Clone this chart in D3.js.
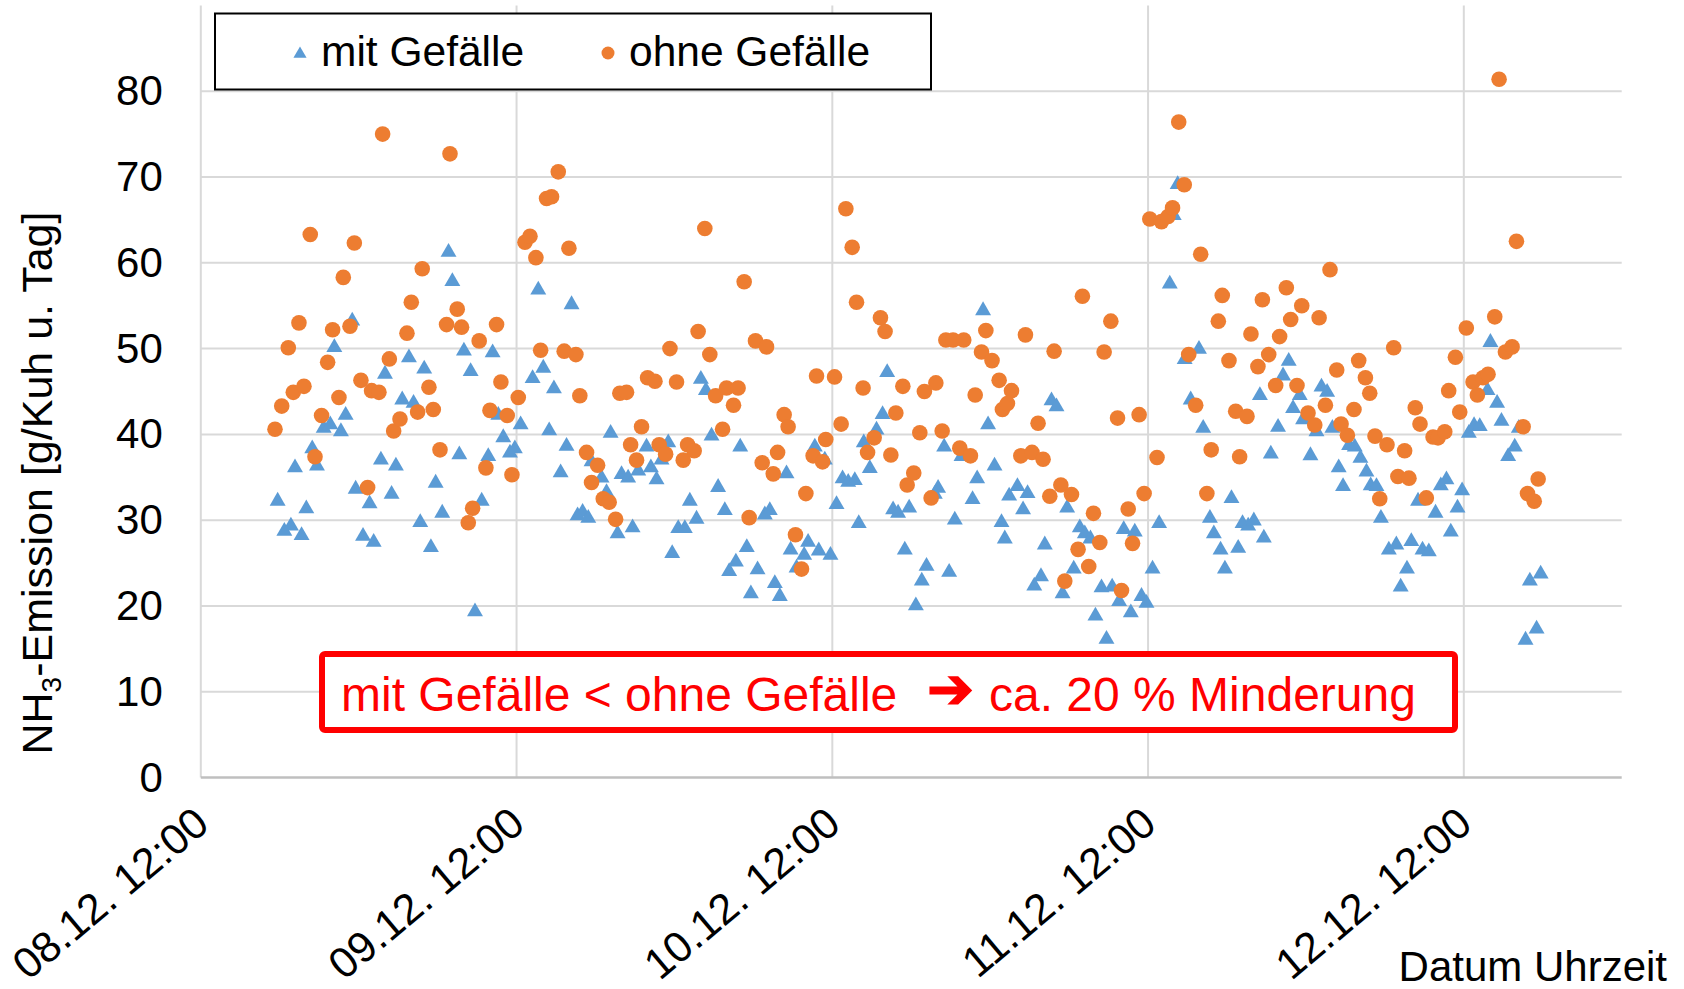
<!DOCTYPE html>
<html>
<head>
<meta charset="utf-8">
<script src="https://cdn.jsdelivr.net/npm/d3@7"></script>
<style>
  body { margin: 0; background: #fff; }
  svg { display: block; }
  text { font-family: "Liberation Sans", Arial, sans-serif; }
</style>
</head>
<body>
<svg id="chart" width="1684" height="989"></svg>
<script>
// x-Achse: Tage, jeweils 12:00
const tickLabels = ['08.12. 12:00', '09.12. 12:00', '10.12. 12:00', '11.12. 12:00', '12.12. 12:00'];
const yTicks = [0, 10, 20, 30, 40, 50, 60, 70, 80];

// Zeit in Stunden nach 08.12. 12:00
const zeitMit = [5.84,6.35,6.85,7.16,7.66,8.02,8.47,8.83,9.34,9.84,10.15,10.65,11.01,11.51,11.77,12.33,12.83,13.14,13.69,14.0,14.5,14.83,15.31,15.82,16.17,16.68,16.98,17.49,17.85,18.35,18.83,19.12,
  19.65,20.0,20.51,20.84,21.35,21.85,22.18,22.61,22.99,23.5,23.87,24.31,25.22,25.65,26.03,26.48,26.84,27.35,27.8,28.18,28.64,29.02,29.45,29.7,30.46,30.84,31.15,31.68,31.98,32.48,32.82,33.25,
  33.88,34.21,34.64,35.02,35.53,35.83,36.29,36.79,37.17,37.68,38.01,38.39,38.82,39.32,39.83,40.16,40.67,41.0,41.5,41.81,42.32,42.87,43.25,43.63,44.01,44.52,44.83,45.28,45.86,46.16,46.67,46.97,
  47.43,47.86,48.32,48.78,49.21,49.71,50.01,50.39,50.85,51.36,51.82,52.17,52.62,53.0,53.51,53.84,54.35,54.8,55.16,55.79,56.04,56.5,56.88,57.31,57.82,58.66,59.01,59.46,59.84,60.33,60.86,61.11,61.44,
  62.07,62.5,62.84,63.35,63.86,64.15,64.66,65.04,65.5,65.85,66.35,66.81,67.19,67.62,68.0,68.46,68.84,69.27,69.8,70.15,70.69,70.99,71.5,71.88,72.34,72.84,73.65,73.95,74.25,74.78,75.24,75.87,
  76.19,76.7,77.0,77.51,77.84,78.34,78.85,79.18,79.61,80.04,80.5,80.8,81.33,81.88,82.26,82.69,83.02,83.53,83.78,84.34,84.8,85.18,85.61,86.01,86.49,86.82,87.28,87.71,88.14,88.6,88.92,89.36,89.7,
  90.3,90.87,91.2,91.68,92.01,92.52,92.86,93.34,93.85,94.25,94.68,95.01,95.52,95.87,96.38,96.78,97.21,97.8,98.02,98.53,98.86,99.37,99.87,100.18,100.69,101.02,101.53,101.84];
const mitGefaelle = [32.5,29.0,29.6,36.4,28.5,31.6,38.6,36.6,41.0,41.4,50.4,40.6,42.5,53.5,33.9,28.4,32.2,27.7,37.3,47.3,33.3,36.6,44.3,49.2,43.9,30.0,47.9,27.1,34.6,31.1,61.5,58.1,
  37.9,50.0,47.6,19.6,32.5,37.7,49.8,42.5,39.9,38.1,38.6,41.4,46.8,57.1,48.0,40.7,45.6,35.8,38.9,55.4,30.8,31.2,30.5,37.1,35.2,33.5,40.4,28.7,35.6,35.2,29.4,36.0,
  38.8,36.4,35.0,37.3,39.3,26.4,29.3,29.3,32.5,30.4,46.7,45.4,40.1,34.1,31.4,24.3,25.4,38.8,27.1,21.7,24.5,30.9,31.4,22.9,21.4,35.7,26.8,24.7,26.2,27.7,38.8,26.7,
  37.3,26.2,32.1,35.1,34.7,34.9,29.9,39.3,36.3,40.8,42.6,47.5,31.5,31.1,26.8,31.7,20.3,23.2,24.9,33.3,34.0,38.8,24.2,30.3,37.7,32.7,35.1,54.7,41.4,36.6,30.0,28.1,33.1,
  34.2,31.5,33.4,22.6,23.7,27.4,44.2,43.5,21.7,31.7,24.6,29.4,28.7,28.1,19.1,22.4,16.4,22.5,20.8,29.2,19.5,28.9,21.4,20.6,24.6,29.9,57.8,65.8,69.4,49.0,44.3,50.2,
  41.0,30.5,28.7,26.8,24.6,32.8,27.0,29.9,29.6,30.2,44.8,28.2,38.0,41.1,47.1,48.8,43.3,44.8,42.0,37.8,40.6,45.8,45.2,41.0,36.4,34.2,39.0,38.8,37.5,35.9,34.3,34.2,30.5,
  26.8,27.4,22.5,24.6,27.8,32.5,26.8,26.6,31.1,34.3,35.0,28.9,31.7,33.7,40.4,41.3,41.2,45.4,51.0,43.9,41.8,37.7,38.8,41.0,16.3,23.2,17.6,24.0];

const zeitOhne = [5.64,6.15,6.65,7.03,7.46,7.84,8.32,8.68,9.18,9.64,10.02,10.5,10.83,11.34,11.67,12.17,12.68,12.98,13.54,13.82,14.33,14.66,15.14,15.67,16.0,16.48,16.83,17.34,17.67,18.18,18.68,18.94,
  19.49,19.82,20.33,20.66,21.16,21.67,21.98,22.48,22.81,23.29,23.65,24.13,24.64,25.02,25.47,25.83,26.28,26.66,27.17,27.62,27.98,28.51,28.81,29.32,29.7,30.16,30.59,31.04,31.53,31.85,32.36,32.67,33.12,33.5,
  33.96,34.52,34.84,35.33,35.66,36.16,36.67,37.0,37.5,37.8,38.31,38.69,39.13,39.66,39.96,40.49,40.84,41.3,41.68,42.16,42.67,43.0,43.51,43.84,44.34,44.64,45.2,45.66,45.99,46.54,46.8,47.26,47.5,
  48.17,48.67,49.03,49.51,49.84,50.34,50.68,51.18,51.66,52.01,52.45,52.83,53.36,53.69,54.19,54.65,55.0,55.51,55.87,56.35,56.63,57.18,57.69,57.99,58.5,58.86,59.34,59.67,60.14,60.68,60.93,61.31,61.62,
  62.33,62.68,63.18,63.64,64.02,64.53,64.86,65.37,65.67,66.18,66.68,67.01,67.49,67.85,68.33,68.66,69.17,69.68,69.98,70.49,70.82,71.32,71.7,72.13,72.68,73.02,73.52,73.86,74.33,74.75,75.09,75.62,76.0,
  76.47,76.8,77.34,77.64,78.15,78.66,78.96,79.52,79.82,80.35,80.69,81.17,81.7,82.0,82.51,82.84,83.32,83.68,84.16,84.67,85.0,85.48,85.83,86.34,86.67,87.15,87.65,88.01,88.52,88.85,89.25,89.61,
  90.16,90.67,90.99,91.5,91.83,92.31,92.67,93.15,93.66,94.04,94.55,94.85,95.36,95.69,96.19,96.7,97.03,97.46,97.84,98.35,98.68,99.16,99.67,100.0,100.51,100.84,101.35,101.65];
const ohneGefaelle = [40.6,43.3,50.1,44.9,53.0,45.6,63.3,37.4,42.2,48.4,52.2,44.3,58.3,52.6,62.3,46.3,33.8,45.1,44.9,75.0,48.8,40.4,41.8,51.8,55.4,42.6,59.3,45.5,42.9,38.2,52.8,72.7,
  54.6,52.5,29.7,31.4,50.9,36.1,42.8,52.8,46.1,42.2,35.3,44.3,62.4,63.1,60.6,49.8,67.5,67.7,70.6,49.7,61.7,49.3,44.5,37.9,34.4,36.4,32.5,32.1,30.1,44.8,44.9,38.8,37.0,40.9,
  46.6,46.2,38.8,37.7,50.0,46.1,37.0,38.8,38.1,52.0,64.0,49.3,44.5,40.6,45.4,43.4,45.4,57.8,30.3,50.9,36.7,50.2,35.4,37.9,42.3,40.9,28.3,24.3,33.1,37.5,46.8,36.8,39.4,
  46.7,41.2,66.3,61.8,55.4,45.4,37.9,39.6,53.6,52.0,37.6,42.5,45.6,34.1,35.5,40.2,45.0,32.6,46.0,40.4,51.0,51.0,38.4,51.0,37.5,44.6,49.6,52.1,48.6,46.3,42.9,43.6,45.1,
  37.5,51.6,37.9,41.3,37.1,32.8,49.7,34.1,22.9,33.0,26.6,56.1,24.6,30.8,27.4,49.6,53.2,41.9,21.8,31.3,27.3,42.3,33.1,65.1,37.3,64.8,65.4,66.4,76.4,69.1,49.3,43.4,61.0,
  33.1,38.2,53.2,56.2,48.6,42.7,37.4,42.1,51.7,47.9,55.7,49.3,45.7,51.4,57.1,53.4,45.7,55.0,42.5,41.1,53.6,43.4,59.2,47.5,41.2,39.9,42.9,48.6,46.6,44.8,39.8,32.5,
  38.8,50.1,35.1,38.1,34.9,43.1,41.2,32.6,39.7,39.6,40.3,45.1,49.0,42.6,52.4,46.1,44.6,46.6,47.0,53.7,81.4,49.6,50.2,62.5,40.9,33.1,32.2,34.8];

const blau = '#5b9bd5';
const orange = '#ed7d31';

const parseTick = d3.utcParse('%d.%m. %H:%M');
const tickDates = tickLabels.map(parseTick);
const start = tickDates[0];
const toDate = h => new Date(start.getTime() + h * 3600000);

const svg = d3.select('#chart');
const left = 200.8, right = 1621.7;

const x = d3.scaleUtc()
  .domain([start, d3.utcHour.offset(tickDates[tickDates.length - 1], 12)])
  .range([left, right]);
const y = d3.scaleLinear().domain([0, 90]).range([777.6, 5.4]);

// Gitternetz
svg.append('g').selectAll('line')
  .data(yTicks.slice(1))
  .join('line')
  .attr('x1', left).attr('x2', right)
  .attr('y1', d => y(d)).attr('y2', d => y(d))
  .attr('stroke', '#d9d9d9').attr('stroke-width', 2);

svg.append('g').selectAll('line')
  .data(tickDates)
  .join('line')
  .attr('x1', d => x(d)).attr('x2', d => x(d))
  .attr('y1', y(90)).attr('y2', y(0))
  .attr('stroke', '#d9d9d9').attr('stroke-width', 2);

svg.append('line')
  .attr('x1', left).attr('x2', right)
  .attr('y1', y(0)).attr('y2', y(0))
  .attr('stroke', '#bfbfbf').attr('stroke-width', 2.5);

// y-Achse
const yAxis = svg.append('g')
  .attr('transform', `translate(${left},0)`)
  .call(d3.axisLeft(y).tickValues(yTicks).tickSize(0).tickPadding(38));
yAxis.select('.domain').remove();
yAxis.selectAll('text')
  .attr('font-family', '"Liberation Sans", Arial, sans-serif')
  .attr('font-size', 42).attr('fill', '#000');

// x-Achse, Beschriftung um 40 Grad gedreht
const xAxis = svg.append('g')
  .attr('transform', `translate(0,${y(0)})`)
  .call(d3.axisBottom(x).tickValues(tickDates).tickFormat((d, i) => tickLabels[i]).tickSize(0));
xAxis.select('.domain').remove();
xAxis.selectAll('text')
  .attr('font-family', '"Liberation Sans", Arial, sans-serif')
  .attr('font-size', 43).attr('fill', '#000')
  .attr('text-anchor', 'end')
  .attr('dy', null)
  .attr('y', 0)
  .attr('transform', 'translate(10,50) rotate(-40)');

// Achsentitel
const yTitle = svg.append('text')
  .attr('transform', 'translate(52,483) rotate(-90)')
  .attr('text-anchor', 'middle')
  .attr('font-size', 43);
yTitle.append('tspan').text('NH');
yTitle.append('tspan').attr('font-size', 28).attr('dy', 9).text('3');
yTitle.append('tspan').attr('dy', -9).text('-Emission [g/Kuh u. Tag]');

svg.append('text')
  .attr('x', 1667).attr('y', 981)
  .attr('text-anchor', 'end')
  .attr('font-size', 42)
  .text('Datum Uhrzeit');

// Punkte
const dreieck = d3.symbol(d3.symbolTriangle, 110);
const mitDaten = zeitMit.map((t, i) => ({ t: toDate(t), v: mitGefaelle[i] }));
const ohneDaten = zeitOhne.map((t, i) => ({ t: toDate(t), v: ohneGefaelle[i] }));

svg.append('g').selectAll('path')
  .data(mitDaten)
  .join('path')
  .attr('d', dreieck)
  .attr('transform', d => `translate(${x(d.t)},${y(d.v) + 2.3})`)
  .attr('fill', blau);

svg.append('g').selectAll('circle')
  .data(ohneDaten)
  .join('circle')
  .attr('cx', d => x(d.t)).attr('cy', d => y(d.v))
  .attr('r', 7.8)
  .attr('fill', orange);

// Legende
const legend = svg.append('g');
legend.append('rect')
  .attr('x', 215).attr('y', 13.5).attr('width', 716).attr('height', 76)
  .attr('fill', '#fff').attr('stroke', '#000').attr('stroke-width', 2);
legend.append('path')
  .attr('d', d3.symbol(d3.symbolTriangle, 75))
  .attr('transform', 'translate(300,54)')
  .attr('fill', blau);
legend.append('text').attr('x', 321).attr('y', 66).attr('font-size', 42.5).text('mit Gefälle');
legend.append('circle').attr('cx', 608).attr('cy', 53).attr('r', 6.5).attr('fill', orange);
legend.append('text').attr('x', 629).attr('y', 66).attr('font-size', 42.5).text('ohne Gefälle');

// Hinweis
const hinweis = svg.append('g');
hinweis.append('rect')
  .attr('x', 322).attr('y', 654).attr('width', 1133).attr('height', 76)
  .attr('rx', 3)
  .attr('fill', '#fff').attr('stroke', '#ff0000').attr('stroke-width', 6);
hinweis.append('text')
  .attr('x', 341).attr('y', 711)
  .attr('font-size', 48).attr('fill', '#ff0000')
  .text('mit Gefälle < ohne Gefälle');
hinweis.append('text')
  .attr('x', 927).attr('y', 708)
  .attr('font-family', '"DejaVu Sans", sans-serif')
  .attr('font-size', 56).attr('fill', '#ff0000')
  .attr('stroke', '#ff0000').attr('stroke-width', 1.5)
  .text('➔');
hinweis.append('text')
  .attr('x', 989).attr('y', 711)
  .attr('font-size', 48).attr('fill', '#ff0000')
  .text('ca. 20 % Minderung');
</script>
</body>
</html>
